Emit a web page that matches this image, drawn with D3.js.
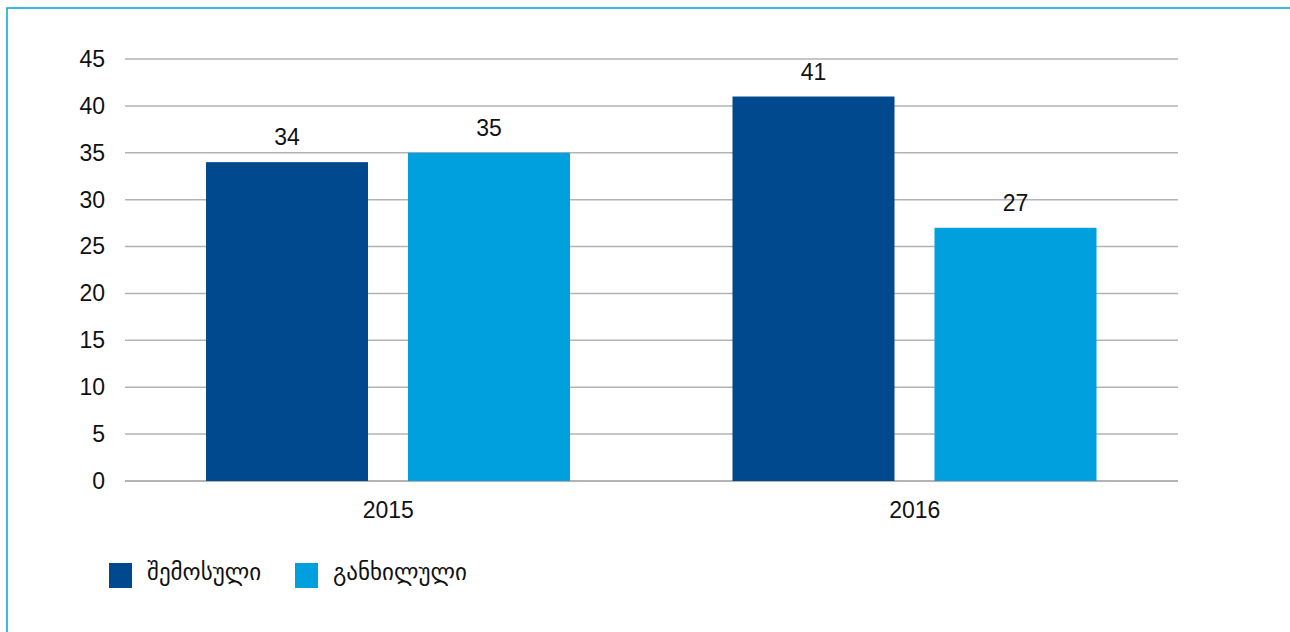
<!DOCTYPE html>
<html>
<head>
<meta charset="utf-8">
<script src="https://cdn.jsdelivr.net/npm/d3@7"></script>
<style>
  body { margin: 0; background: #fff; }
  svg text { font-family: "Liberation Sans", Arial, "DejaVu Sans", sans-serif; fill: #111; }
</style>
</head>
<body>
<div id="chart"></div>
<script>
// Chart data
var years = ['2015', '2016'];
var seriesNames = ['შემოსული', 'განხილული'];
var seriesColors = ['#00498f', '#009fde'];
var received = [34, 41];
var reviewed = [35, 27];
var yTicks = [0, 5, 10, 15, 20, 25, 30, 35, 40, 45];

var W = 1290, H = 632;
var margin = { top: 59, left: 125, right: 112, bottom: 151 };
var width = W - margin.left - margin.right;
var height = H - margin.top - margin.bottom;
var fontSize = '23px';

var rows = years.map(function (y, i) { return { year: y, values: [received[i], reviewed[i]] }; });

var svg = d3.select('#chart').append('svg')
            .attr('width', W)
            .attr('height', H);

// outer frame (only top and left edges visible)
svg.append('rect')
   .attr('x', 7).attr('y', 8)
   .attr('width', W + 20).attr('height', H + 20)
   .attr('fill', 'none')
   .attr('stroke', '#00a0e0')
   .attr('stroke-width', 1.5);

var g = svg.append('g')
           .attr('transform', 'translate(' + margin.left + ',' + margin.top + ')');

var xScale = d3.scaleBand().domain(years).range([0, width]);
var xInner = d3.scaleBand().domain([0, 1]).range([81, 445]).paddingInner(40 / 202);
var yScale = d3.scaleLinear().domain([0, 45]).range([height, 0]);

// gridlines
g.append('g')
 .selectAll('line')
 .data(yTicks)
 .enter().append('line')
 .attr('x1', 0).attr('x2', width)
 .attr('y1', function (d) { return yScale(d); })
 .attr('y2', function (d) { return yScale(d); })
 .attr('stroke', '#b3b3b3')
 .attr('stroke-width', function (d) { return d === 0 ? 2 : 1.5; });

// y axis labels
var yAxis = d3.axisLeft(yScale).tickValues(yTicks).tickSize(0).tickPadding(20);
var yg = g.append('g').call(yAxis);
yg.select('.domain').remove();
yg.selectAll('text').style('font-size', fontSize).attr('fill', '#111');

// x axis labels
var xAxis = d3.axisBottom(xScale).tickSize(0).tickPadding(21);
var xg = g.append('g').attr('transform', 'translate(0,' + height + ')').call(xAxis);
xg.select('.domain').remove();
xg.selectAll('text').style('font-size', fontSize).attr('fill', '#111');

// bars
var groups = g.selectAll('.grp')
              .data(rows)
              .enter().append('g')
              .attr('class', 'grp')
              .attr('transform', function (d) { return 'translate(' + xScale(d.year) + ',0)'; });

groups.selectAll('rect')
      .data(function (d) { return d.values.map(function (v, i) { return { i: i, v: v }; }); })
      .enter().append('rect')
      .attr('x', function (d) { return xInner(d.i); })
      .attr('width', xInner.bandwidth())
      .attr('y', function (d) { return yScale(d.v); })
      .attr('height', function (d) { return height - yScale(d.v); })
      .attr('fill', function (d) { return seriesColors[d.i]; });

groups.selectAll('.val')
      .data(function (d) { return d.values.map(function (v, i) { return { i: i, v: v }; }); })
      .enter().append('text')
      .attr('class', 'val')
      .attr('x', function (d) { return xInner(d.i) + xInner.bandwidth() / 2; })
      .attr('y', function (d) { return yScale(d.v) - 17; })
      .attr('text-anchor', 'middle')
      .style('font-size', fontSize)
      .text(function (d) { return d.v; });

// legend
var legendX = [109, 295];
var legend = svg.selectAll('.leg')
                .data(seriesNames)
                .enter().append('g')
                .attr('class', 'leg')
                .attr('transform', function (d, i) { return 'translate(' + legendX[i] + ',563)'; });

legend.append('rect')
      .attr('width', 23).attr('height', 25)
      .attr('fill', function (d, i) { return seriesColors[i]; });

legend.append('text')
      .attr('x', 38).attr('y', 17)
      .style('font-size', fontSize)
      .text(function (d) { return d; });
</script>
</body>
</html>
